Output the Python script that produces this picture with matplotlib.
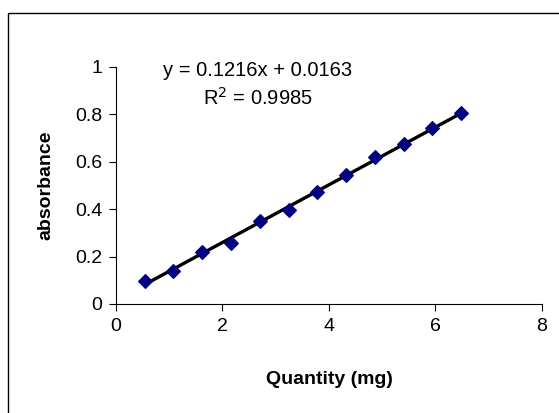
import numpy as np
import matplotlib
matplotlib.use("Agg")
import matplotlib.pyplot as plt
from matplotlib.patches import Rectangle

plt.rcParams['font.family'] = ['Liberation Sans', 'DejaVu Sans']

# data
quantity = [0.54, 1.08, 1.62, 2.16, 2.70, 3.24, 3.78, 4.32, 4.86, 5.40, 5.94, 6.48]
absorbance = [0.098, 0.137, 0.219, 0.257, 0.351, 0.396, 0.471, 0.546, 0.619, 0.675, 0.741, 0.804]
slope = 0.1216
intercept = 0.0163
r_squared = 0.9985

fig = plt.figure(figsize=(5.59, 4.13), dpi=100)
ax = fig.add_axes([0.2075, 0.264, 0.762, 0.574])

# chart-area border like the spreadsheet export
fig.patches.append(Rectangle((8 / 559, -0.5), 2.0, 1 - 13 / 413 + 0.5,
                             transform=fig.transFigure, fill=False,
                             edgecolor='black', lw=1.0))

ax.scatter(quantity, absorbance, marker='D', s=48, color='#000080', zorder=3)

xs = np.array([min(quantity), max(quantity)])
ax.plot(xs, slope * xs + intercept, color='black', lw=2.4, zorder=2)

ax.set_xlim(0, 8)
ax.set_ylim(0, 1)
ax.set_xticks([0, 2, 4, 6, 8])
ax.set_yticks([0, 0.2, 0.4, 0.6, 0.8, 1])
ax.set_yticklabels(['0', '0.2', '0.4', '0.6', '0.8', '1'])
ax.tick_params(direction='out', length=5, width=0.8, labelsize=14, pad=5)

for s in ['top', 'right']:
    ax.spines[s].set_visible(False)
for s in ['left', 'bottom']:
    ax.spines[s].set_linewidth(0.8)

ax.set_xlabel('Quantity (mg)', fontsize=14, fontweight='bold', labelpad=26)
ax.set_ylabel('absorbance', fontsize=14, fontweight='bold', labelpad=15)

ax.text(258 / 559, 1 - 70 / 413, f'y = {slope}x + {intercept}',
        transform=fig.transFigure, ha='center', va='center', fontsize=14.5)
ax.text(258 / 559, 1 - 98 / 413, f'R$^2$ = {r_squared}',
        transform=fig.transFigure, ha='center', va='center', fontsize=14.5)

fig.savefig('out.png', dpi=100)
